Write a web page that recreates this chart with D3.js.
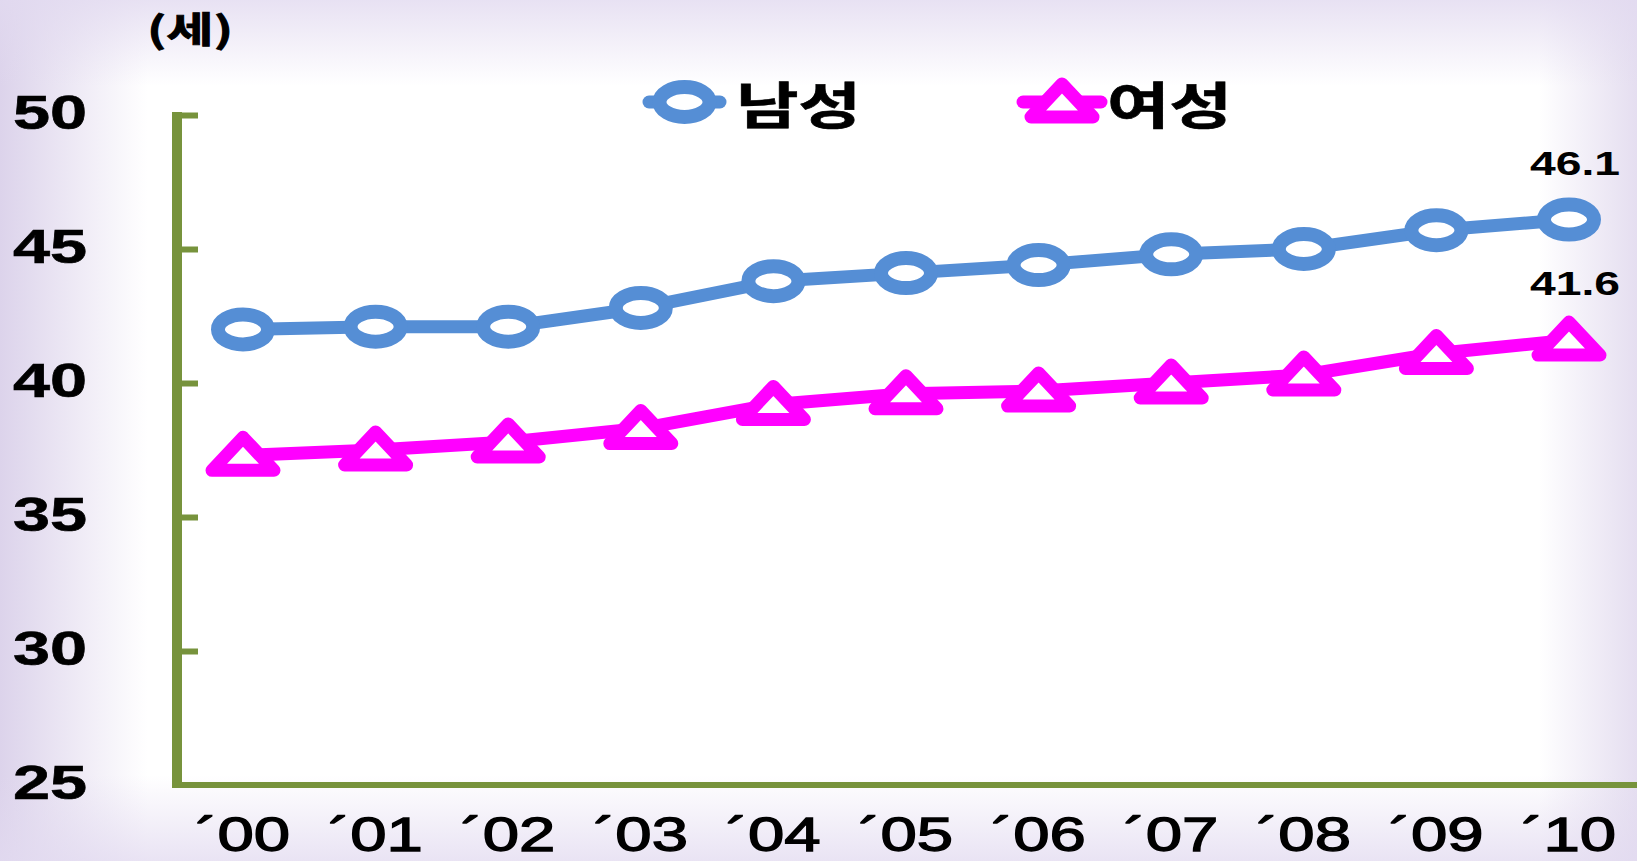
<!DOCTYPE html>
<html>
<head>
<meta charset="utf-8">
<script src="https://cdn.jsdelivr.net/npm/d3@7"></script>
<style>
  body { margin: 0; overflow: hidden; background: #fff; }
  text { font-family: "Liberation Sans", Arial, sans-serif; fill: #000; }
  .kr { font-family: "Noto Sans CJK KR", "Noto Sans", sans-serif; }
</style>
</head>
<body>
<svg id="chart"></svg>
<script>
// data
const years = ["00", "01", "02", "03", "04", "05", "06", "07", "08", "09", "10"];
const yearLabels = ["´00", "´01", "´02", "´03", "´04", "´05", "´06", "´07", "´08", "´09", "´10"];
const male = [42.0, 42.1, 42.1, 42.8, 43.8, 44.1, 44.4, 44.8, 45.0, 45.7, 46.1];
const female = [37.3, 37.5, 37.8, 38.3, 39.2, 39.6, 39.7, 40.0, 40.3, 41.1, 41.6];
const yTicks = [25, 30, 35, 40, 45, 50];
const seriesNames = ["남성", "여성"];
const unitLabel = "(세)";

const W = 1637, H = 861;
const SX = 1.36;            // text in the source is stretched sideways
const olive = "#77933C", blue = "#558ED5", pink = "#FF00FF";

const svg = d3.select("#chart").attr("width", W).attr("height", H);

// background: white middle, lavender edges
const defs = svg.append("defs");
const gh = defs.append("linearGradient").attr("id", "bgH");
[[0, 1], [0.09, 0], [0.94, 0], [1, 0.75]].forEach(s =>
  gh.append("stop").attr("offset", s[0]).attr("stop-color", "#DCD3EB").attr("stop-opacity", s[1]));
const gv = defs.append("linearGradient").attr("id", "bgV")
  .attr("x1", 0).attr("y1", 0).attr("x2", 0).attr("y2", 1);
[[0, 0.8], [0.1, 0], [0.9, 0], [1, 0.75]].forEach(s =>
  gv.append("stop").attr("offset", s[0]).attr("stop-color", "#E2DAF0").attr("stop-opacity", s[1]));
svg.append("rect").attr("width", W).attr("height", H).attr("fill", "#fff");
svg.append("rect").attr("width", W).attr("height", H).attr("fill", "url(#bgH)");
svg.append("rect").attr("width", W).attr("height", H).attr("fill", "url(#bgV)");

const y = d3.scaleLinear().domain([25, 50]).range([785, 115]);
const x = d3.scalePoint().domain(years).range([243, 1569]);
const axisX = 177;

// axes
const gy = svg.append("g").attr("transform", `translate(${axisX},0)`)
  .call(d3.axisRight(y).tickValues(yTicks.slice(1)).tickSize(21).tickFormat(""));
gy.select(".domain").remove();
gy.selectAll(".tick line").attr("stroke", olive).attr("stroke-width", 6);

svg.append("line")
  .attr("x1", axisX).attr("x2", axisX)
  .attr("y1", y(50) - 3).attr("y2", y(25) + 3)
  .attr("stroke", olive).attr("stroke-width", 10);
svg.append("line")
  .attr("x1", axisX - 5).attr("x2", W)
  .attr("y1", y(25)).attr("y2", y(25))
  .attr("stroke", olive).attr("stroke-width", 6);

// y tick labels
svg.selectAll(".ylab").data(yTicks).join("text")
  .attr("class", "ylab")
  .attr("transform", d => `translate(50,${y(d) - 4}) scale(${SX},1)`)
  .attr("dy", "0.36em")
  .attr("text-anchor", "middle")
  .attr("font-size", 49).attr("font-weight", "bold")
  .attr("stroke", "#000").attr("stroke-width", 0.6)
  .text(d => d);

// x tick labels
svg.selectAll(".xlab").data(years).join("text")
  .attr("class", "xlab")
  .attr("transform", d => `translate(${x(d)},851) scale(${SX},1)`)
  .attr("text-anchor", "middle")
  .attr("font-size", 48)
  .attr("stroke", "#000").attr("stroke-width", 1.3)
  .text((d, i) => yearLabels[i]);

// unit label
svg.append("text").attr("class", "kr")
  .attr("transform", `translate(190,43) scale(${SX * 1.05},1)`)
  .attr("text-anchor", "middle")
  .attr("font-size", 36).attr("font-weight", "bold")
  .attr("stroke", "#000").attr("stroke-width", 0.8)
  .text(unitLabel);

// markers
const tri = "M0,-18L31,15L-31,15Z";
function circleMark(sel) {
  sel.append("ellipse").attr("rx", 25).attr("ry", 15)
    .attr("fill", "#fff").attr("stroke", blue).attr("stroke-width", 14);
}
function triMark(sel) {
  sel.append("path").attr("d", tri)
    .attr("fill", "#fff").attr("stroke", pink).attr("stroke-width", 13)
    .attr("stroke-linejoin", "round");
}

const line = d3.line().x((d, i) => x(years[i])).y(d => y(d));

svg.append("path").datum(female).attr("d", line)
  .attr("fill", "none").attr("stroke", pink).attr("stroke-width", 13).attr("stroke-linejoin", "round");
svg.selectAll(".fm").data(female).join("g").attr("class", "fm")
  .attr("transform", (d, i) => `translate(${x(years[i])},${y(d)})`)
  .call(triMark);

svg.append("path").datum(male).attr("d", line)
  .attr("fill", "none").attr("stroke", blue).attr("stroke-width", 13).attr("stroke-linejoin", "round");
svg.selectAll(".mm").data(male).join("g").attr("class", "mm")
  .attr("transform", (d, i) => `translate(${x(years[i])},${y(d)})`)
  .call(circleMark);

// value labels on the last year
const last = years.length - 1;
[male, female].forEach(s => {
  svg.append("text")
    .attr("transform", `translate(${x(years[last]) + 6},${y(s[last]) - 45}) scale(${SX},1)`)
    .attr("text-anchor", "middle")
    .attr("font-size", 34).attr("font-weight", "bold")
    .text(s[last].toFixed(1));
});

// legend
const legend = [
  { name: seriesNames[0], color: blue, x0: 649, x1: 720, mark: circleMark, tx: 736 },
  { name: seriesNames[1], color: pink, x0: 1023, x1: 1101, mark: triMark, tx: 1107 }
];
const ly = 102;
legend.forEach(l => {
  svg.append("line").attr("x1", l.x0).attr("x2", l.x1).attr("y1", ly).attr("y2", ly)
    .attr("stroke", l.color).attr("stroke-width", 13).attr("stroke-linecap", "round");
  svg.append("g").attr("transform", `translate(${(l.x0 + l.x1) / 2},${ly})`).call(l.mark);
  svg.append("text").attr("class", "kr")
    .attr("transform", `translate(${l.tx},124) scale(${SX},1)`)
    .attr("font-size", 50).attr("font-weight", "bold")
    .attr("stroke", "#000").attr("stroke-width", 0.6)
    .text(l.name);
});
</script>
</body>
</html>
